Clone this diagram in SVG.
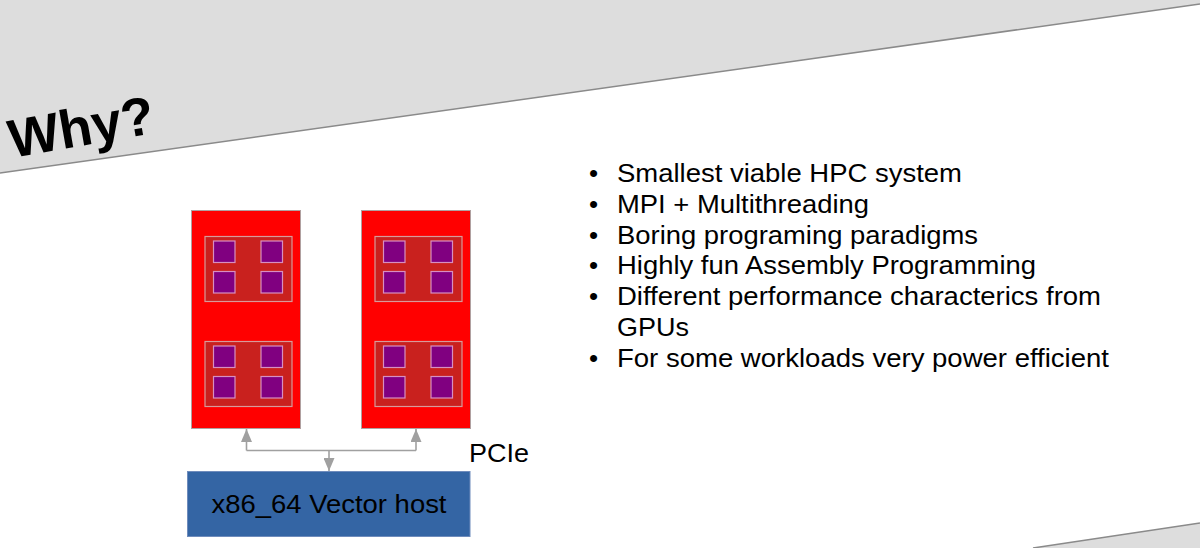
<svg xmlns="http://www.w3.org/2000/svg" width="1200" height="548" viewBox="0 0 1200 548">
  <style>
    .bg { fill: #dddddd; }
    .edge { stroke: #8a8a8a; stroke-width: 1.5; fill: none; }
    .card { fill: #ff0000; stroke: #b0a0a0; stroke-width: 1; }
    .core { fill: #c9211e; stroke: #d89a9a; stroke-width: 1.2; }
    .unit { fill: #800080; stroke: #d88fc0; stroke-width: 1.2; }
    .host { fill: #3465a4; stroke: #6f8cbc; stroke-width: 1; }
    .conn { stroke: #a0a0a0; stroke-width: 1.6; fill: none; }
    .txt { font-family: "Liberation Sans", Arial, sans-serif; fill: #000000; }
    .bul { font-size: 26px; }
  </style>
  <defs>
    <marker id="arr" viewBox="0 0 13 11" refX="13" refY="5.5" markerWidth="13" markerHeight="11" markerUnits="userSpaceOnUse" orient="auto">
      <path d="M0,0 L13,5.5 L0,11 z" fill="#a0a0a0"/>
    </marker>
    <g id="chip">
      <rect class="core" x="0" y="0" width="87" height="65"/>
      <rect class="unit" x="8.5" y="4.5" width="21.5" height="21.5"/>
      <rect class="unit" x="56" y="4.5" width="21.5" height="21.5"/>
      <rect class="unit" x="8.5" y="35" width="21.5" height="21.5"/>
      <rect class="unit" x="56" y="35" width="21.5" height="21.5"/>
    </g>
  </defs>

  <rect x="0" y="0" width="1200" height="548" fill="#ffffff"/>

  <g id="background">
    <polygon class="bg" points="0,0 1200,0 1200,4 0,173"/>
    <line class="edge" x1="0" y1="173" x2="1200" y2="4"/>
    <polygon class="bg" points="1033,548 1200,523 1200,548"/>
    <line class="edge" x1="1033" y1="548" x2="1200" y2="523"/>
  </g>

  <g id="title">
    <text class="txt" x="12" y="158" font-size="54" font-weight="bold" transform="rotate(-10 12 158)">Why?</text>
  </g>

  <g id="card-left">
    <rect class="card" x="191.5" y="210.5" width="109" height="218"/>
    <use href="#chip" x="205" y="236.5"/>
    <use href="#chip" x="205" y="341.5"/>
  </g>

  <g id="card-right">
    <rect class="card" x="361.5" y="210.5" width="109" height="218"/>
    <use href="#chip" x="375" y="236.5"/>
    <use href="#chip" x="375" y="341.5"/>
  </g>

  <g id="host">
    <rect class="host" x="187.5" y="471.5" width="282.5" height="65"/>
    <text class="txt" x="211.5" y="512.5" font-size="25" fill="#111" textLength="235" lengthAdjust="spacingAndGlyphs">x86_64 Vector host</text>
  </g>

  <g id="connectors">
    <path class="conn" d="M246.5,450.5 H416"/>
    <line class="conn" x1="246.5" y1="450.5" x2="246.5" y2="429" marker-end="url(#arr)"/>
    <line class="conn" x1="416" y1="450.5" x2="416" y2="429" marker-end="url(#arr)"/>
    <line class="conn" x1="329" y1="450.5" x2="329" y2="471" marker-end="url(#arr)"/>
  </g>

  <g id="pcie-label">
    <text class="txt" x="469" y="462" font-size="26" textLength="60" lengthAdjust="spacingAndGlyphs">PCIe</text>
  </g>

  <g id="bullets" class="txt bul">
    <text x="589" y="182">•</text>
    <text x="617" y="182" textLength="345" lengthAdjust="spacingAndGlyphs">Smallest viable HPC system</text>
    <text x="589" y="212.7">•</text>
    <text x="617" y="212.7" textLength="252" lengthAdjust="spacingAndGlyphs">MPI + Multithreading</text>
    <text x="589" y="243.5">•</text>
    <text x="617" y="243.5" textLength="361" lengthAdjust="spacingAndGlyphs">Boring programing paradigms</text>
    <text x="589" y="274.3">•</text>
    <text x="617" y="274.3" textLength="419" lengthAdjust="spacingAndGlyphs">Highly fun Assembly Programming</text>
    <text x="589" y="305">•</text>
    <text x="617" y="305" textLength="484" lengthAdjust="spacingAndGlyphs">Different performance characterics from</text>
    <text x="617" y="335.7" textLength="72" lengthAdjust="spacingAndGlyphs">GPUs</text>
    <text x="589" y="366.5">•</text>
    <text x="617" y="366.5" textLength="492" lengthAdjust="spacingAndGlyphs">For some workloads very power efficient</text>
  </g>
</svg>
